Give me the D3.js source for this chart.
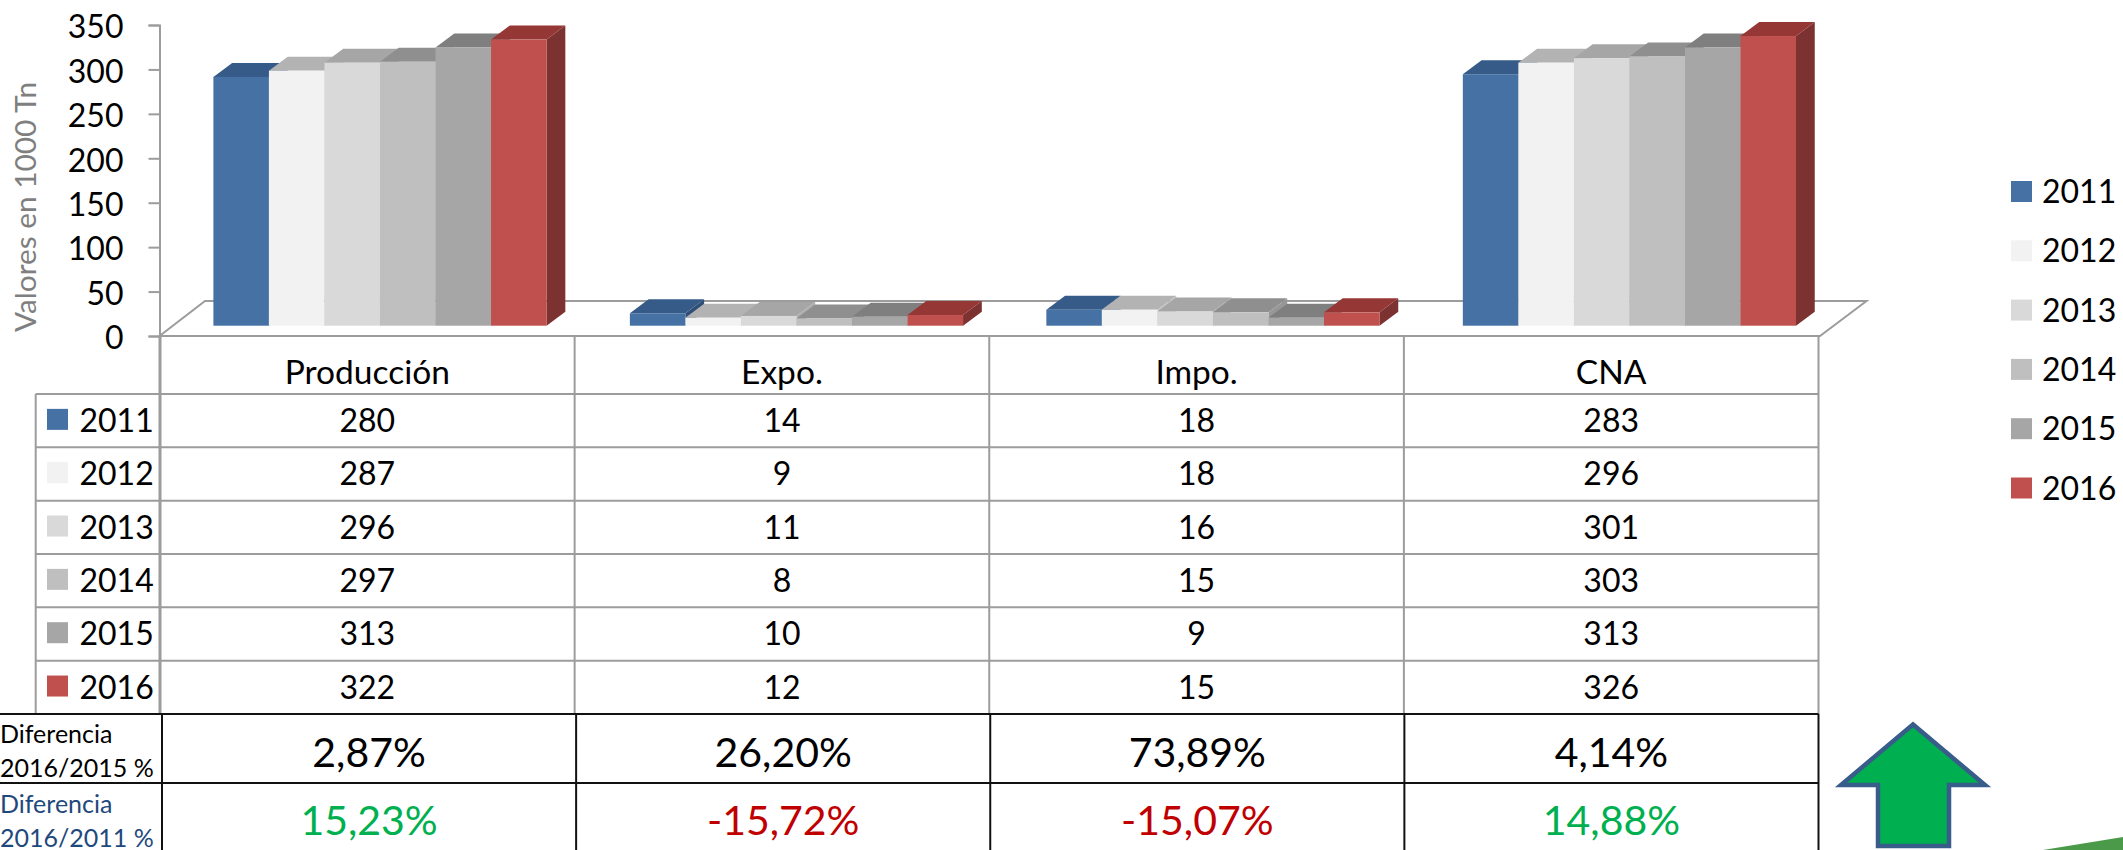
<!DOCTYPE html>
<html><head><meta charset="utf-8">
<script src="https://cdn.jsdelivr.net/npm/d3@7/dist/d3.min.js"></script>
<style>html,body{margin:0;padding:0;background:#fff}svg{display:block}text{font-family:Lato,sans-serif}</style>
</head><body><svg id="c" width="2123" height="850"></svg>
<script>
const categories=["Producción","Expo.","Impo.","CNA"];
const years=["2011","2012","2013","2014","2015","2016"];
const v2011=[280,14,18,283];
const v2012=[287,9,18,296];
const v2013=[296,11,16,301];
const v2014=[297,8,15,303];
const v2015=[313,10,9,313];
const v2016=[322,12,15,326];
const seriesValues=[v2011,v2012,v2013,v2014,v2015,v2016];
const diff1516=["2,87%","26,20%","73,89%","4,14%"];
const diff1611=["15,23%","-15,72%","-15,07%","14,88%"];
const yTicks=[0,50,100,150,200,250,300,350];
const front=["#4571a5","#f2f2f2","#d9d9d9","#bfbfbf","#a6a6a6","#c0504d"];
const topc=["#365b88","#b3b3b3","#a6a6a6","#8f8f8f","#7f7f7f","#953735"];
const sidec=["#2f4f77","#c4c4c4","#aeaeae","#979797","#858585","#7c3230"];
const grid="#9c9c9c";
const svg=d3.select("#c");
const y=d3.scaleLinear().domain([0,350]).range([336,25]);
const baseShift=-10.3,dx=18.75,dy=14;
const xOuter=d3.scaleBand().domain(categories).range([213.4,1796]).paddingInner(0.2).paddingOuter(0);
const xInner=d3.scaleBand().domain(years).range([0,xOuter.bandwidth()]);
const xTable=d3.scaleBand().domain(categories).range([160,1818.5]);
const line=(x1,y1,x2,y2,c,w)=>svg.append("line").attr("x1",x1).attr("y1",y1).attr("x2",x2).attr("y2",y2).attr("stroke",c).attr("stroke-width",w);
// floor
svg.append("path").attr("d",`M159.5,336L205,301L1866.5,301L1820,336Z`).attr("fill","#fff").attr("stroke",grid).attr("stroke-width",2);
// axis
const axis=d3.axisLeft(y).tickValues(yTicks).tickSize(11).tickPadding(25);
const ag=svg.append("g").attr("transform","translate(159.5,0)").call(axis);
ag.selectAll("path,line").attr("stroke",grid).attr("stroke-width",2);
ag.selectAll("text").attr("font-size",32).attr("fill","#000").attr("dy","0.4em").attr("font-family","Lato");
svg.append("text").attr("transform","translate(36,207) rotate(-90)").attr("text-anchor","middle").attr("font-size",29).attr("fill","#7f7f7f").attr("textLength",250).attr("lengthAdjust","spacingAndGlyphs").text("Valores en 1000 Tn");
// bars
categories.forEach((cat,ci)=>{
  years.forEach((yr,si)=>{
    const v=seriesValues[si][ci];
    const x0=xOuter(cat)+xInner(yr),w=xInner.bandwidth();
    const b=y(0)+baseShift,t=y(v)+baseShift;
    const g=svg.append("g");
    g.append("path").attr("d",`M${x0+w},${t}L${x0+w+dx},${t-dy}L${x0+w+dx},${b-dy}L${x0+w},${b}Z`).attr("fill",sidec[si]);
    g.append("path").attr("d",`M${x0},${t}L${x0+dx},${t-dy}L${x0+w+dx},${t-dy}L${x0+w},${t}Z`).attr("fill",topc[si]);
    g.append("rect").attr("x",x0).attr("y",t).attr("width",w).attr("height",b-t).attr("fill",front[si]);
  });
});
// data table
const rowY=d3.scaleBand().domain(years).range([394,714]);
const tableLeft=35.7;
line(xTable.range()[0],394,xTable.range()[1],394,grid,2);
years.forEach(yr=>line(tableLeft,rowY(yr)+rowY.bandwidth(),xTable.range()[1],rowY(yr)+rowY.bandwidth(),grid,2));
line(tableLeft,394,159.5,394,grid,2);
line(tableLeft,394,tableLeft,714,grid,2);
xTable.domain().forEach(c=>line(xTable(c),336,xTable(c),714,grid,c===categories[0]?3:2));
line(xTable.range()[1],336,xTable.range()[1],714,grid,2);
const label=(x,yy,s,size,fill,anchor="middle")=>svg.append("text").attr("x",x).attr("y",yy).attr("text-anchor",anchor).attr("dominant-baseline","central").attr("font-size",size).attr("fill",fill).text(s);
categories.forEach(c=>label(xTable(c)+xTable.bandwidth()/2,371,c,33.5,"#000"));
years.forEach((yr,si)=>{
  const cy=rowY(yr)+rowY.bandwidth()/2-1.3;
  svg.append("rect").attr("x",47).attr("y",cy-10.5).attr("width",21).attr("height",21).attr("fill",front[si]);
  label(79.5,cy,yr,32,"#000","start");
  categories.forEach((c,ci)=>label(xTable(c)+xTable.bandwidth()/2,cy,seriesValues[si][ci],32,"#000"));
});
// diff table
const xDiff=d3.scaleBand().domain(categories).range([162,1818.5]);
line(0,714,1818.5,714,"#111",2);line(0,783,1818.5,783,"#111",2);
xDiff.domain().forEach(c=>line(xDiff(c),714,xDiff(c),850,"#111",2));
line(1818.5,714,1818.5,850,"#111",2);
label(0,733,"Diferencia",25,"#000","start");label(0,767,"2016/2015 %",25,"#000","start");
label(0,803,"Diferencia",25,"#1f497d","start");label(0,837,"2016/2011 %",25,"#1f497d","start");
categories.forEach((c,i)=>{
  const cx=xDiff(c)+xDiff.bandwidth()/2;
  label(cx,751,diff1516[i],41,"#000");
  label(cx,819,diff1611[i],41,diff1611[i][0]==="-"?"#c00000":"#00b050");
});
// legend
const legY=d3.scalePoint().domain(years).range([191.5,488]);
years.forEach((yr,si)=>{
  svg.append("rect").attr("x",2011).attr("y",legY(yr)-10.5).attr("width",21).attr("height",21).attr("fill",front[si]);
  label(2042,legY(yr)-1,yr,32,"#000","start");
});
// arrow
svg.append("path").attr("d","M1913,724.5L1841,785L1878,785L1878,846L1949,846L1949,785L1985,785Z").attr("fill","#00b050").attr("stroke","#385d8a").attr("stroke-width",4.5);
// corner swoosh
svg.append("path").attr("d","M2043,850L2123,837L2123,850Z").attr("fill","#4a9a4a");
</script></body></html>
